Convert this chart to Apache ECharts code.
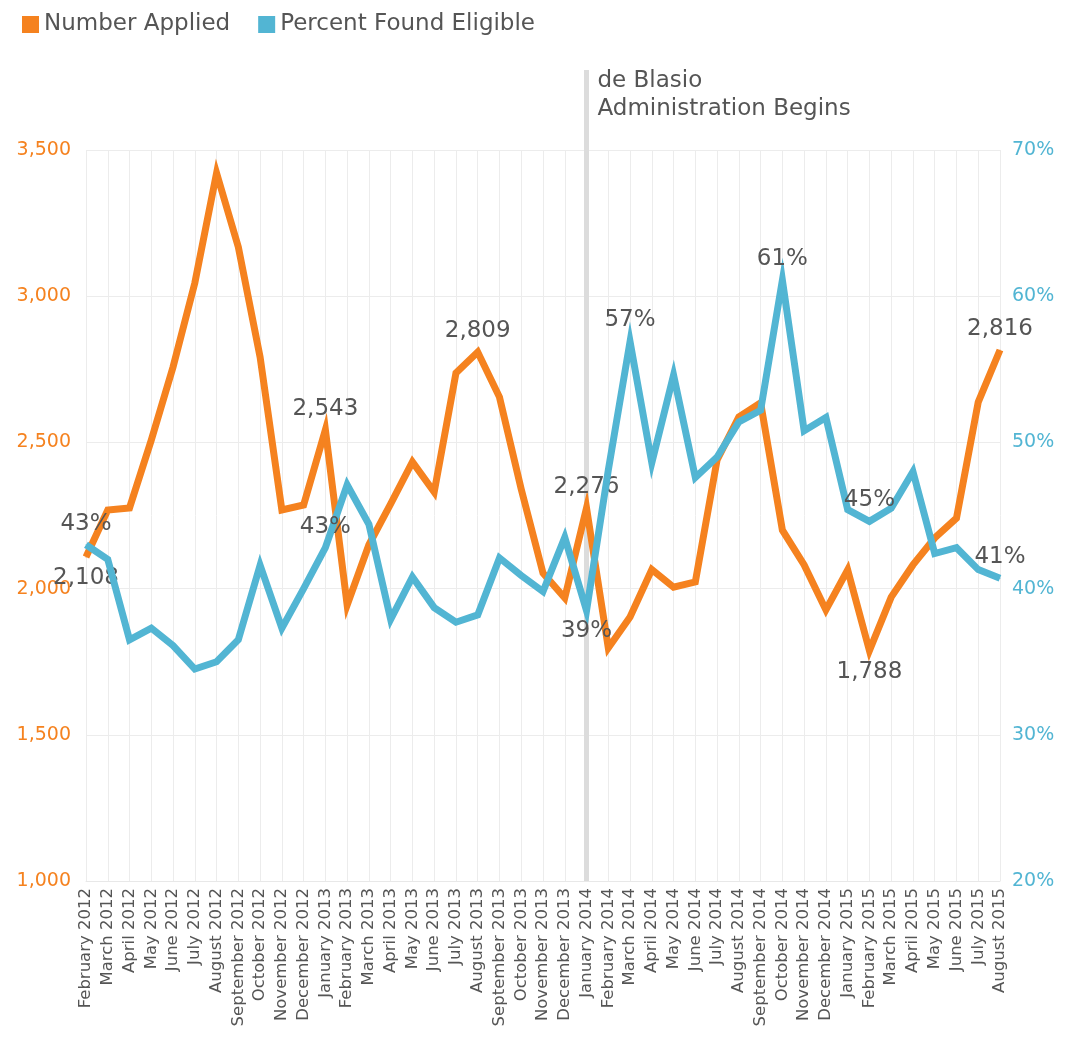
<!DOCTYPE html>
<html>
<head>
<meta charset="utf-8">
<script src="https://cdn.jsdelivr.net/npm/echarts@6/dist/echarts.min.js"></script>
<style>
  html, body { margin: 0; padding: 0; background: #fff; }
  #main { width: 1076px; height: 1038px; }
</style>
</head>
<body>
<div id="main"></div>
<script>
  // months, Feb 2012 - Aug 2015
  var months = [
    'February 2012', 'March 2012', 'April 2012', 'May 2012', 'June 2012', 'July 2012',
    'August 2012', 'September 2012', 'October 2012', 'November 2012', 'December 2012',
    'January 2013', 'February 2013', 'March 2013', 'April 2013', 'May 2013', 'June 2013',
    'July 2013', 'August 2013', 'September 2013', 'October 2013', 'November 2013', 'December 2013',
    'January 2014', 'February 2014', 'March 2014', 'April 2014', 'May 2014', 'June 2014',
    'July 2014', 'August 2014', 'September 2014', 'October 2014', 'November 2014', 'December 2014',
    'January 2015', 'February 2015', 'March 2015', 'April 2015', 'May 2015', 'June 2015',
    'July 2015', 'August 2015'
  ];

  var numberApplied = [
    2108, 2269, 2276, 2508, 2758, 3045, 3421, 3168, 2792, 2269, 2286,
    2543, 1944, 2150, 2290, 2433, 2330, 2737, 2809, 2655, 2340, 2053, 1968,
    2276, 1797, 1903, 2065, 2005, 2023, 2440, 2587, 2635, 2200, 2081, 1927,
    2064, 1788, 1971, 2081, 2173, 2241, 2638, 2816
  ];

  var percentEligible = [
    43.0, 42.0, 36.5, 37.3, 36.1, 34.5, 35.0, 36.5, 41.6, 37.3, 40.0,
    42.8, 47.1, 44.4, 37.9, 40.8, 38.7, 37.7, 38.2, 42.1, 40.9, 39.8, 43.5,
    38.5, 48.1, 56.9, 48.6, 54.6, 47.6, 49.0, 51.4, 52.2, 61.1, 50.8, 51.7,
    45.4, 44.6, 45.5, 48.0, 42.4, 42.8, 41.3, 40.7
  ];

  // which points carry a value label
  var appliedLabels = { 0: 'bottom', 11: 'top', 18: 'top', 23: 'top', 36: 'bottom', 42: 'top' };
  var eligibleLabels = { 0: 'top', 11: 'top', 23: 'bottom', 25: 'top', 32: 'top', 36: 'top', 42: 'top' };

  var leftTicks = [1000, 1500, 2000, 2500, 3000, 3500];
  var rightTicks = [20, 30, 40, 50, 60, 70];
  var adminStart = 'January 2014';

  var orange = '#F5821F';
  var blue = '#52B5D3';
  var grey = '#555555';
  var font = 'DejaVu Sans';

  function fmt(v) {
    return String(v).replace(/\B(?=(\d{3})+(?!\d))/g, ',');
  }

  function withLabels(values, labels, formatter) {
    return values.map(function (v, i) {
      if (!labels[i]) return v;
      return {
        value: v,
        label: {
          show: true,
          position: labels[i],
          distance: 9,
          formatter: formatter(v),
          color: grey,
          fontSize: 23,
          fontFamily: font
        }
      };
    });
  }

  var myChart = echarts.init(document.getElementById('main'));

  var option = {
    animation: false,
    textStyle: { fontFamily: font },
    legend: {
      left: 17,
      top: 8,
      icon: 'rect',
      itemWidth: 17,
      itemHeight: 17,
      itemGap: 28,
      itemTextGap: 6,
      textStyle: { color: grey, fontSize: 23, fontFamily: font },
      data: ['Number Applied', 'Percent Found Eligible']
    },
    grid: { left: 86, right: 76, top: 150, bottom: 157 },
    xAxis: {
      type: 'category',
      data: months,
      boundaryGap: false,
      axisLine: { lineStyle: { color: '#e8e8e8' } },
      axisTick: { show: false },
      splitLine: { show: true, interval: 0, lineStyle: { color: '#ececec', width: 1 } },
      axisLabel: {
        interval: 0,
        rotate: 90,
        color: grey,
        fontSize: 16.5,
        fontFamily: font,
        margin: 7
      }
    },
    yAxis: [{
      type: 'value',
      min: leftTicks[0],
      max: leftTicks[leftTicks.length - 1],
      interval: 500,
      axisLine: { show: false },
      axisTick: { show: false },
      splitLine: { lineStyle: { color: '#ececec' } },
      axisLabel: {
        color: orange,
        fontSize: 19,
        fontFamily: font,
        margin: 15,
        formatter: function (v) { return fmt(v); }
      }
    }, {
      type: 'value',
      min: rightTicks[0],
      max: rightTicks[rightTicks.length - 1],
      interval: 10,
      axisLine: { show: false },
      axisTick: { show: false },
      splitLine: { show: false },
      axisLabel: {
        color: blue,
        fontSize: 19,
        fontFamily: font,
        margin: 12,
        formatter: '{value}%'
      }
    }],
    series: [{
      name: 'Number Applied',
      type: 'line',
      yAxisIndex: 0,
      symbol: 'circle',
      symbolSize: 1,
      showSymbol: true,
      color: orange,
      lineStyle: { width: 7, color: orange, join: 'miter' },
      data: withLabels(numberApplied, appliedLabels, function (v) { return fmt(v); }),
      z: 3
    }, {
      name: 'Percent Found Eligible',
      type: 'line',
      yAxisIndex: 1,
      symbol: 'circle',
      symbolSize: 1,
      showSymbol: true,
      color: blue,
      lineStyle: { width: 7, color: blue, join: 'miter' },
      data: withLabels(percentEligible, eligibleLabels, function (v) { return Math.round(v) + '%'; }),
      z: 4
    }]
  };

  myChart.setOption(option);

  // de Blasio marker line, placed with the chart's own scales
  var x = myChart.convertToPixel({ xAxisIndex: 0 }, adminStart);
  var yBottom = myChart.convertToPixel({ yAxisIndex: 0 }, leftTicks[0]);
  myChart.setOption({
    graphic: [{
      type: 'line',
      z: 1,
      shape: { x1: x, y1: 70, x2: x, y2: yBottom },
      style: { stroke: '#dcdcdc', lineWidth: 5 }
    }, {
      type: 'text',
      z: 5,
      left: x + 11,
      top: 67,
      style: {
        text: 'de Blasio\nAdministration Begins',
        fill: grey,
        font: '23px ' + font,
        lineHeight: 28
      }
    }]
  });
</script>
</body>
</html>
